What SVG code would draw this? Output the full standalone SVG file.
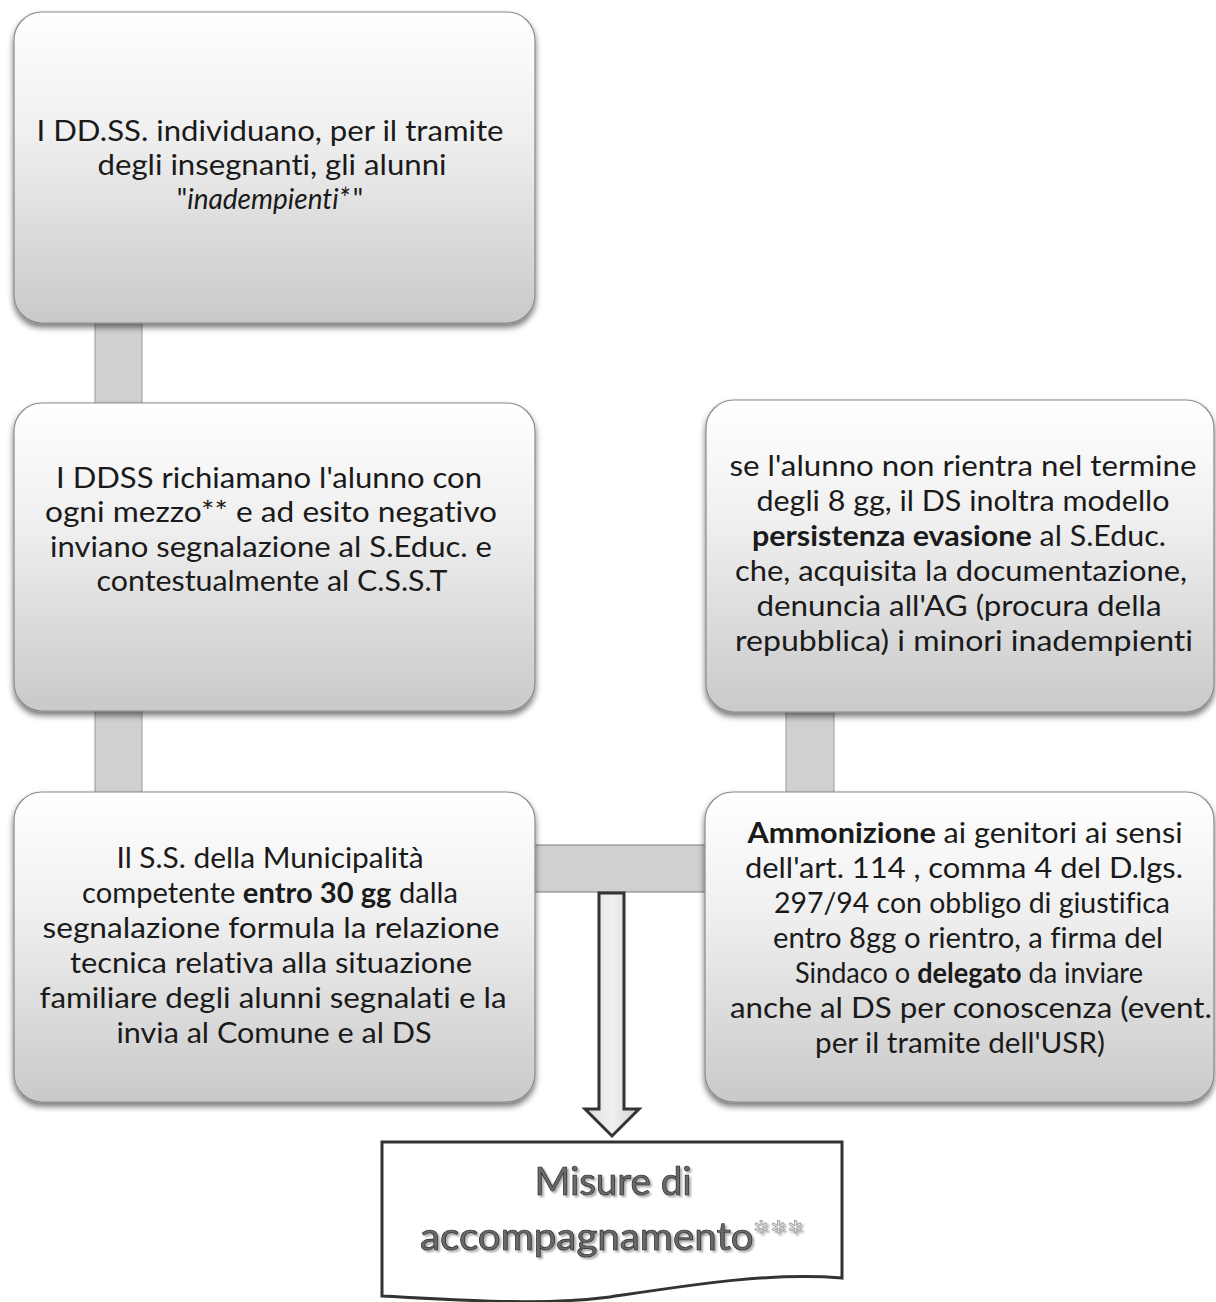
<svg xmlns="http://www.w3.org/2000/svg" width="1216" height="1302" viewBox="0 0 1216 1302">
<defs>
<linearGradient id="boxg" x1="0" y1="0" x2="0" y2="1">
<stop offset="0" stop-color="#ffffff"/>
<stop offset="0.4" stop-color="#efefef"/>
<stop offset="1" stop-color="#c9c9c9"/>
</linearGradient>
<linearGradient id="arrg" x1="0" y1="0" x2="1" y2="0">
<stop offset="0" stop-color="#dcdcdc"/>
<stop offset="0.5" stop-color="#f0f0f0"/>
<stop offset="1" stop-color="#d0d0d0"/>
</linearGradient>
<filter id="sh" x="-5%" y="-5%" width="110%" height="115%">
<feGaussianBlur in="SourceAlpha" stdDeviation="3"/>
<feOffset dx="0" dy="4" result="b"/>
<feComponentTransfer><feFuncA type="linear" slope="0.55"/></feComponentTransfer>
<feMerge><feMergeNode/><feMergeNode in="SourceGraphic"/></feMerge>
</filter>
<filter id="tsh" x="-5%" y="-20%" width="110%" height="140%">
<feGaussianBlur in="SourceAlpha" stdDeviation="0.8"/>
<feOffset dx="1.5" dy="1.5"/>
<feComponentTransfer><feFuncA type="linear" slope="0.35"/></feComponentTransfer>
<feMerge><feMergeNode/><feMergeNode in="SourceGraphic"/></feMerge>
</filter>
</defs>
<style>
.box{fill:url(#boxg);stroke:#8a8a8a;stroke-width:1.2;filter:url(#sh)}
.bar{fill:#d0d0d0;stroke:#9a9a9a;stroke-width:1}
.t{font-family:Lato,"Open Sans","Liberation Sans",sans-serif;font-size:28px;fill:#1a1a1a;text-anchor:middle;font-variant-ligatures:none}
.b{font-weight:bold}
.i{font-style:italic}
.doc{fill:#ffffff;stroke:#333333;stroke-width:3}
.big{font-family:Lato,"Open Sans","Liberation Sans",sans-serif;font-size:38px;fill:#6a6a6a;stroke:#2a2a2a;stroke-width:0.7;text-anchor:middle;filter:url(#tsh);font-variant-ligatures:none}
.ast{fill:#ffffff;stroke:#9a9a9a;stroke-width:0.8}
</style>
<rect width="1216" height="1302" fill="#ffffff"/>
<g id="connectors">
<rect class="bar" x="95" y="318" width="47" height="90"/>
<rect class="bar" x="95" y="706" width="47" height="90"/>
<rect class="bar" x="786" y="706" width="48" height="90"/>
<rect class="bar" x="530" y="845" width="180" height="47" style="stroke:#7a7a7a"/>
<path d="M599,893 H624 V1109 H639 L612,1136 L585,1109 H599 Z" fill="url(#arrg)" stroke="#333333" stroke-width="3" stroke-linejoin="miter"/>
</g>
<g id="node1">
<rect class="box" x="14" y="12" width="521" height="311" rx="28"/>
<text class="t" x="270" y="141" textLength="467" lengthAdjust="spacingAndGlyphs">I DD.SS. individuano, per il tramite</text>
<text class="t" x="272" y="175" textLength="349" lengthAdjust="spacingAndGlyphs">degli insegnanti, gli alunni</text>
<text class="t" x="270" y="209">"<tspan class="i">inadempienti*</tspan><tspan dx="3">"</tspan></text>
</g>
<g id="node2">
<rect class="box" x="14" y="403" width="521" height="308" rx="28"/>
<text class="t" x="269" y="488" textLength="426" lengthAdjust="spacingAndGlyphs">I DDSS richiamano l'alunno con</text>
<text class="t" x="271" y="522" textLength="452" lengthAdjust="spacingAndGlyphs">ogni mezzo** e ad esito negativo</text>
<text class="t" x="271" y="557" textLength="442" lengthAdjust="spacingAndGlyphs">inviano segnalazione al S.Educ. e</text>
<text class="t" x="272" y="591" textLength="351" lengthAdjust="spacingAndGlyphs">contestualmente al C.S.S.T</text>
</g>
<g id="node3">
<rect class="box" x="14" y="792" width="521" height="310" rx="28"/>
<text class="t" x="270" y="868" textLength="307" lengthAdjust="spacingAndGlyphs">Il S.S. della Municipalità</text>
<text class="t" x="270" y="903" textLength="376" lengthAdjust="spacingAndGlyphs">competente <tspan class="b">entro 30 gg</tspan> dalla</text>
<text class="t" x="271" y="938" textLength="457" lengthAdjust="spacingAndGlyphs">segnalazione formula la relazione</text>
<text class="t" x="271" y="973" textLength="402" lengthAdjust="spacingAndGlyphs">tecnica relativa alla situazione</text>
<text class="t" x="273" y="1008" textLength="467" lengthAdjust="spacingAndGlyphs">familiare degli alunni segnalati e la</text>
<text class="t" x="274" y="1043" textLength="315" lengthAdjust="spacingAndGlyphs">invia al Comune e al DS</text>
</g>
<g id="node4">
<rect class="box" x="706" y="400" width="508" height="312" rx="28"/>
<text class="t" x="963" y="476" textLength="467" lengthAdjust="spacingAndGlyphs">se l'alunno non rientra nel termine</text>
<text class="t" x="963" y="511" textLength="413" lengthAdjust="spacingAndGlyphs">degli 8 gg, il DS inoltra modello</text>
<text class="t" x="959" y="546" textLength="414" lengthAdjust="spacingAndGlyphs"><tspan class="b">persistenza evasione</tspan> al S.Educ.</text>
<text class="t" x="961" y="581" textLength="452" lengthAdjust="spacingAndGlyphs">che, acquisita la documentazione,</text>
<text class="t" x="959" y="616" textLength="405" lengthAdjust="spacingAndGlyphs">denuncia all'AG (procura della</text>
<text class="t" x="964" y="651" textLength="458" lengthAdjust="spacingAndGlyphs">repubblica)  i minori inadempienti</text>
</g>
<g id="node5">
<rect class="box" x="705" y="792" width="509" height="310" rx="28"/>
<text class="t" x="965" y="843" textLength="435" lengthAdjust="spacingAndGlyphs"><tspan class="b">Ammonizione</tspan> ai genitori ai sensi</text>
<text class="t" x="964" y="878" textLength="438" lengthAdjust="spacingAndGlyphs">dell'art. 114 , comma 4 del D.lgs.</text>
<text class="t" x="972" y="913" textLength="396" lengthAdjust="spacingAndGlyphs">297/94 con obbligo di giustifica</text>
<text class="t" x="968" y="948" textLength="390" lengthAdjust="spacingAndGlyphs">entro 8gg o rientro, a firma del</text>
<text class="t" x="969" y="983" textLength="348" lengthAdjust="spacingAndGlyphs">Sindaco o <tspan class="b">delegato</tspan> da inviare</text>
<text class="t" x="971" y="1018" textLength="482" lengthAdjust="spacingAndGlyphs">anche al DS per conoscenza (event.</text>
<text class="t" x="960" y="1053" textLength="290" lengthAdjust="spacingAndGlyphs">per il tramite dell'USR)</text>
</g>
<g id="node6">
<path class="doc" d="M382,1142 H842 V1278 C770,1272 690,1285 610,1297 C540,1306 460,1300 382,1296 Z"/>
<text class="big" x="613" y="1195" textLength="157" lengthAdjust="spacingAndGlyphs">Misure di</text>
<text class="big" x="612" y="1250" textLength="384" lengthAdjust="spacingAndGlyphs">accompagnamento<tspan class="ast">***</tspan></text>
</g>
</svg>
